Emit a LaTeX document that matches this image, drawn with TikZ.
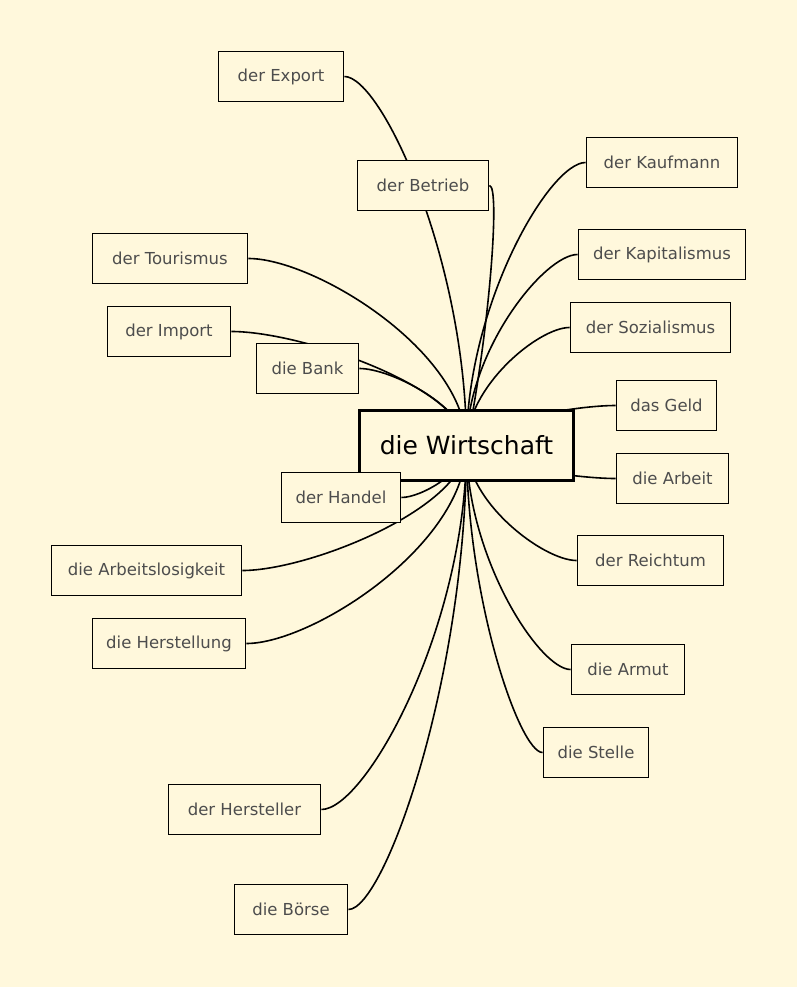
\documentclass[tikz,border=0pt]{standalone}
\usepackage{fontspec}
\setmainfont{DejaVu Sans}
\usepackage{xcolor}
\definecolor{mbg}{HTML}{FFF8DC}
\definecolor{mblack}{HTML}{000000}
\definecolor{mgray}{HTML}{4D4D4D}
\pgfdeclarelayer{back}
\pgfdeclarelayer{links}
\pgfsetlayers{back,links,main}
\tikzset{
	leaf/.style={draw=mblack, fill=mbg, line width=1.9pt, minimum height=50pt, inner sep=0pt, text=mgray, font=\fontsize{16.5}{19}\selectfont},
	root/.style={draw=mblack, fill=mbg, line width=3pt, minimum width=214pt, minimum height=70pt, inner sep=0pt, text=mblack, font=\fontsize{25}{29}\selectfont},
	link/.style={draw=mblack, line width=1.6pt}
}

\begin{document}
\begin{tikzpicture}[x=1pt, y=-1pt]
		\begin{pgfonlayer}{back}
			\fill[mbg] (0,0) rectangle (797,987);
		\end{pgfonlayer}
		\useasboundingbox (0,0) rectangle (797,987);
		% root
		\node[root] (wirt) at (466.5,445.5) {die Wirtschaft};
		% leaves, left side
		\node[leaf, minimum width=125pt] (export) at (281,76.5) {der Export};
		\node[leaf, minimum width=155pt] (tour) at (170,258.5) {der Tourismus};
		\node[leaf, minimum width=123pt] (import) at (169,331.5) {der Import};
		\node[leaf, minimum width=102pt] (bank) at (307.5,368.5) {die Bank};
		\node[leaf, minimum width=119pt] (handel) at (341,497.5) {der Handel};
		\node[leaf, minimum width=190pt] (alos) at (146.5,570.5) {die Arbeitslosigkeit};
		\node[leaf, minimum width=153pt] (herst) at (169,643.5) {die Herstellung};
		\node[leaf, minimum width=152pt] (herstr) at (244.5,809.5) {der Hersteller};
		\node[leaf, minimum width=113pt] (boerse) at (291,909.5) {die Börse};
		% leaves, right side
		\node[leaf, minimum width=131pt] (betrieb) at (423,185.5) {der Betrieb};
		\node[leaf, minimum width=151pt] (kaufm) at (662,162.5) {der Kaufmann};
		\node[leaf, minimum width=167pt] (kapital) at (662,254.5) {der Kapitalismus};
		\node[leaf, minimum width=160pt] (sozial) at (650.5,327.5) {der Sozialismus};
		\node[leaf, minimum width=100pt] (geld) at (666.5,405.5) {das Geld};
		\node[leaf, minimum width=112pt] (arbeit) at (672.5,478.5) {die Arbeit};
		\node[leaf, minimum width=146pt] (reich) at (650.5,560.5) {der Reichtum};
		\node[leaf, minimum width=113pt] (armut) at (628,669.5) {die Armut};
		\node[leaf, minimum width=105pt] (stelle) at (596,752.5) {die Stelle};
		% links to the root
		\begin{pgfonlayer}{links}
			\draw[link] (export.east) .. controls +(37,0) and +(0,-185) .. (wirt.center);
			\draw[link] (tour.east) .. controls +(66,0) and +(0,-94) .. (wirt.center);
			\draw[link] (import.east) .. controls +(71,0) and +(0,-57) .. (wirt.center);
			\draw[link] (bank.east) .. controls +(32,0) and +(0,-38) .. (wirt.center);
			\draw[link] (handel.east) .. controls +(20,0) and +(0,26) .. (wirt.center);
			\draw[link] (alos.east) .. controls +(67,0) and +(0,62) .. (wirt.center);
			\draw[link] (herst.east) .. controls +(66,0) and +(0,99) .. (wirt.center);
			\draw[link] (herstr.east) .. controls +(44,0) and +(0,182) .. (wirt.center);
			\draw[link] (boerse.east) .. controls +(36,0) and +(0,232) .. (wirt.center);
			\draw[link] (betrieb.east) .. controls +(11,0) and +(23,-115) .. (wirt.center);
			\draw[link] (kaufm.west) .. controls +(-36,0) and +(0,-141) .. (wirt.center);
			\draw[link] (kapital.west) .. controls +(-33,0) and +(0,-95) .. (wirt.center);
			\draw[link] (sozial.west) .. controls +(-31,0) and +(0,-59) .. (wirt.center);
			\draw[link] (geld.west) .. controls +(-45,0) and +(0,-20) .. (wirt.center);
			\draw[link] (arbeit.west) .. controls +(-45,0) and +(0,16) .. (wirt.center);
			\draw[link] (reich.west) .. controls +(-33,0) and +(0,57) .. (wirt.center);
			\draw[link] (armut.west) .. controls +(-31,0) and +(0,112) .. (wirt.center);
			\draw[link] (stelle.west) .. controls +(-23,0) and +(0,153) .. (wirt.center);
		\end{pgfonlayer}
	\end{tikzpicture}
\end{document}
